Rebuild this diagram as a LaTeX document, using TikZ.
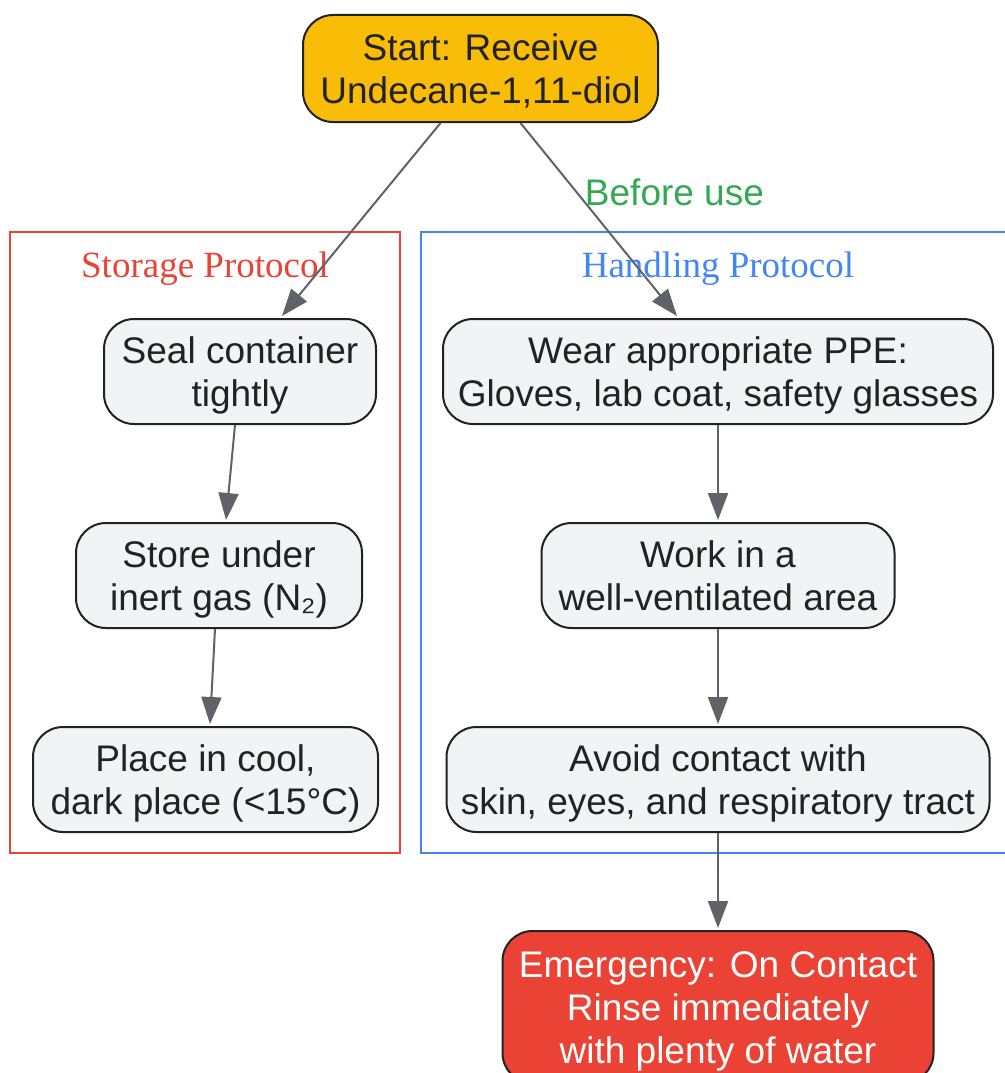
\documentclass[tikz,border=0pt]{standalone}
\usepackage{fontspec}
\setmainfont{Liberation Sans}
\newfontfamily\serifface{Liberation Serif}
\usetikzlibrary{arrows.meta,positioning,calc}
\definecolor{boxfill}{HTML}{F1F3F4}
\definecolor{boxline}{HTML}{222222}
\definecolor{edgecol}{HTML}{5F6368}
\definecolor{startfill}{HTML}{F9BC07}
\definecolor{emfill}{HTML}{EA4335}
\definecolor{redline}{HTML}{EA4335}
\definecolor{blueline}{HTML}{4285F4}
\definecolor{greentxt}{HTML}{34A853}
\newcommand{\tp}{\rule{0pt}{36pt}}
\newcommand{\bt}{\rule[-9pt]{0pt}{9pt}}
\tikzset{
  stepbox/.style={draw=boxline, line width=2pt, fill=boxfill, rounded corners=30pt,
    align=center, inner sep=0pt, text=boxline, minimum height=105pt,
    font=\fontsize{37}{43}\selectfont},
  conn/.style={draw=edgecol, line width=2pt, -{Triangle[length=27pt,width=20pt]}},
  cluster/.style={line width=2pt},
  clabel/.style={font=\serifface\fontsize{37}{42}\selectfont, inner sep=0pt}
}
\begin{document}
\begin{tikzpicture}[x=1pt,y=-1pt]
\useasboundingbox (0,0) rectangle (1004,1073);
% clusters
\draw[cluster, draw=redline] (10,232) rectangle (400,853);
\draw[cluster, draw=blueline] (1010,232) -- (421,232) -- (421,853) -- (1010,853);
\node[clabel, text=redline] (slab) at (205,269) {Storage Protocol};
\node[clabel, text=blueline] (hlab) at (718,269) {Handling Protocol};
% nodes
\node[stepbox, fill=startfill, minimum width=355pt, minimum height=107pt] (start) at (480.5,68.5) {\tp Start: Receive\\Undecane-1,11-diol\bt};
\node[stepbox, minimum width=272pt] (seal) at (240,371.5) {\tp Seal container\\tightly\bt};
\node[stepbox, minimum width=286pt] (store) at (219,575.5) {\tp Store under\\inert gas (N₂)\bt};
\node[stepbox, minimum width=345pt] (place) at (205.5,779.5) {\tp Place in cool,\\dark place (<15°C)\bt};
\node[stepbox, minimum width=550pt] (wear) at (718,371.5) {\tp Wear appropriate PPE:\\Gloves, lab coat, safety glasses\bt};
\node[stepbox, minimum width=353pt] (work) at (718,575.5) {\tp Work in a\\well-ventilated area\bt};
\node[stepbox, minimum width=543pt] (avoid) at (718,779.5) {\tp Avoid contact with\\skin, eyes, and respiratory tract\bt};
\node[stepbox, fill=emfill, text=white, minimum width=431pt, minimum height=152pt] (emer) at (718,1007) {\tp Emergency: On Contact\\Rinse immediately\\with plenty of water\bt};
% edges
\draw[conn] ([xshift=-40pt]start.south) -- ([xshift=42pt,yshift=2pt]seal.north);
\draw[conn] ([xshift=40pt]start.south) -- node[pos=0.38, right=4pt, yshift=4pt, font=\fontsize{37}{42}\selectfont, text=greentxt, inner sep=0pt] (blab) {Before use} ([xshift=-41pt,yshift=2pt]wear.north);
\draw[conn] ([xshift=-5pt]seal.south) -- ([xshift=7pt,yshift=2pt]store.north);
\draw[conn] ([xshift=-4pt]store.south) -- ([xshift=4.5pt,yshift=2pt]place.north);
\draw[conn] (wear.south) -- ([yshift=2pt]work.north);
\draw[conn] (work.south) -- ([yshift=2pt]avoid.north);
\draw[conn] (avoid.south) -- ([yshift=2pt]emer.north);
\end{tikzpicture}
\end{document}
